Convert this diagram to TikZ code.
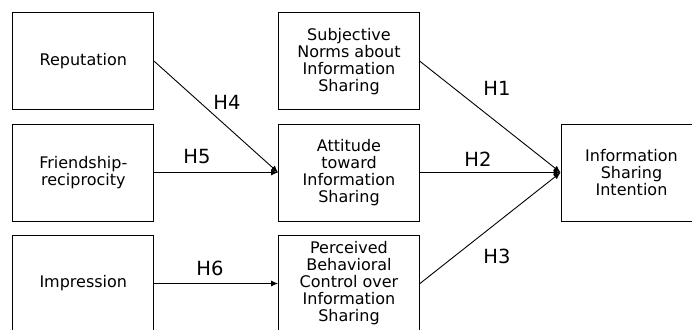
\documentclass[tikz,border=0pt]{standalone}
\usepackage{fontspec}
\setmainfont{DejaVu Sans}
\usetikzlibrary{arrows.meta}
\begin{document}
\begin{tikzpicture}[x=1pt,y=-1pt,
  box/.style={draw,line width=0.9pt,minimum width=141pt,minimum height=97pt,inner sep=0pt,align=center,font=\fontsize{16}{17}\selectfont},
  hyp/.style={-{Latex[length=7pt,width=6pt]},line width=0.9pt},
  lab/.style={font=\fontsize{19.5}{21}\selectfont}]
\clip (0,0) rectangle (692,329);
%left column
\node[box] (rep) at (83.3,61.3) {Reputation};
\node[box] (fri) at (83.3,172.5) {Friendship-\\reciprocity};
\node[box] (imp) at (83.3,283.5) {Impression};
%middle column
\node[box] (sub) at (349,61.3) {Subjective\\Norms about\\Information\\Sharing};
\node[box] (att) at (349,172.5) {Attitude\\toward\\Information\\Sharing};
\node[box] (pbc) at (349,283.5) {Perceived\\Behavioral\\Control over\\Information\\Sharing};
%outcome
\node[box] (isi) at (631.5,172.5) {Information\\Sharing\\Intention};
\draw[hyp] (rep.east) -- (att.west);
\draw[hyp] (fri.east) -- (att.west);
\draw[hyp] (imp.east) -- (pbc.west);
\draw[hyp] (sub.east) -- (isi.west);
\draw[hyp] (att.east) -- (isi.west);
\draw[hyp] (pbc.east) -- (isi.west);
\node[lab] (h4) at (227,102) {H4};
\node[lab] (h5) at (197,157) {H5};
\node[lab] (h6) at (210,268) {H6};
\node[lab] (h1) at (497,88) {H1};
\node[lab] (h2) at (478,159) {H2};
\node[lab] (h3) at (497,256) {H3};
\end{tikzpicture}
\end{document}
